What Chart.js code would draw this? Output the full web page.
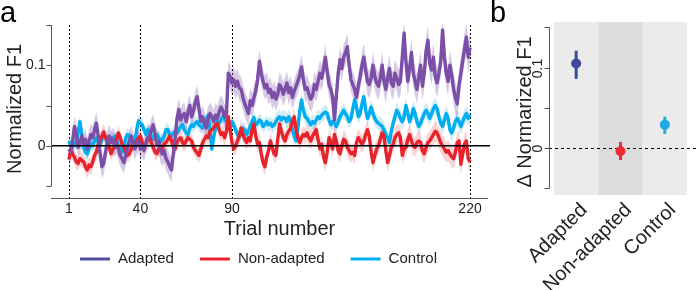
<!DOCTYPE html>
<html><head><meta charset="utf-8">
<script src="https://cdn.jsdelivr.net/npm/chart.js@4.4.1/dist/chart.umd.min.js"></script>
<style>
html,body{margin:0;padding:0;background:#fff;}
#wrap{position:relative;width:697px;height:290px;overflow:hidden;}
canvas{position:absolute;left:0;top:0;}
</style></head><body>
<div id="wrap"><canvas id="ca" width="697" height="290"></canvas><canvas id="cb" width="697" height="290"></canvas></div>
<script>
// ---------- DATA ----------
const seriesNames = ['Adapted', 'Non-adapted', 'Control'];
const markerTrials = [1, 40, 90, 220];
const yTicksA = [-0.05, 0, 0.05, 0.1, 0.15];
const yLabelsA = {'0': '0', '0.1': '0.1'};

const adapted = [
 -0.004,-0.008,0.006,0.024,0.014,-0.002,0.004,0.012,0.002,0.008,
 -0.004,0.006,0.014,0.010,0.020,0.028,0.012,-0.010,-0.026,-0.022,
 -0.008,0.006,0.012,0.004,0.009,0.000,0.004,-0.004,-0.012,-0.016,
 -0.021,-0.012,-0.002,0.006,0.012,0.004,-0.004,0.002,0.006,-0.004,
 0.000,-0.006,0.004,0.010,0.012,0.020,0.026,0.014,0.002,0.006,
 -0.006,-0.010,-0.006,-0.016,-0.020,-0.026,-0.030,-0.010,0.010,0.034,
 0.045,0.032,0.038,0.040,0.030,0.042,0.050,0.036,0.044,0.054,
 0.061,0.046,0.030,0.036,0.028,0.022,0.034,0.040,0.036,0.030,
 0.038,0.034,0.042,0.048,0.044,0.036,0.040,0.090,0.086,0.078,
 0.082,0.074,0.080,0.072,0.070,0.060,0.052,0.046,0.040,0.056,
 0.050,0.060,0.068,0.082,0.105,0.090,0.080,0.072,0.076,0.066,
 0.070,0.060,0.066,0.058,0.064,0.076,0.072,0.064,0.070,0.078,
 0.066,0.072,0.060,0.068,0.074,0.080,0.088,0.098,0.082,0.070,
 0.072,0.064,0.058,0.062,0.076,0.070,0.080,0.090,0.084,0.096,
 0.110,0.092,0.076,0.070,0.060,0.032,0.062,0.090,0.107,0.096,
 0.110,0.116,0.123,0.100,0.082,0.076,0.070,0.060,0.074,0.086,
 0.100,0.110,0.094,0.080,0.076,0.084,0.100,0.086,0.078,0.074,
 0.084,0.100,0.080,0.070,0.084,0.096,0.078,0.074,0.090,0.084,
 0.076,0.080,0.110,0.140,0.104,0.080,0.096,0.116,0.090,0.080,
 0.070,0.086,0.100,0.074,0.090,0.118,0.131,0.102,0.094,0.110,
 0.086,0.078,0.090,0.104,0.144,0.110,0.090,0.080,0.100,0.088,
 0.070,0.060,0.052,0.076,0.090,0.106,0.120,0.135,0.110,0.122
];
const nonAdapted = [
 -0.017,-0.004,-0.010,-0.014,-0.020,-0.022,-0.016,-0.018,-0.020,-0.026,
 -0.030,-0.024,-0.026,-0.020,-0.012,-0.008,0.002,0.006,0.012,0.017,
 0.010,0.006,-0.002,-0.010,-0.004,-0.002,0.008,0.016,0.010,0.002,
 -0.002,-0.008,-0.012,-0.010,-0.004,0.004,0.002,0.006,0.010,0.012,
 0.004,-0.002,0.002,0.008,0.012,0.004,-0.002,-0.008,-0.010,-0.004,
 -0.006,-0.002,0.002,0.004,0.008,0.012,0.006,-0.002,-0.004,0.004,
 0.008,0.010,0.004,0.002,0.006,0.010,0.008,0.006,-0.002,-0.006,
 -0.009,-0.012,-0.004,0.004,0.008,0.012,0.010,0.018,0.020,0.022,
 0.026,0.028,0.020,0.014,0.016,0.010,0.018,0.036,0.020,0.004,
 -0.004,0.000,0.006,0.012,0.022,0.014,0.008,0.004,0.010,0.006,
 0.020,0.027,0.012,0.002,0.004,-0.010,-0.021,-0.026,-0.014,-0.006,
 0.006,-0.002,-0.010,-0.012,0.008,0.027,0.018,0.010,0.006,0.014,
 0.018,0.022,0.030,0.036,0.020,0.010,0.004,0.010,0.014,0.012,
 0.016,0.010,0.006,0.012,0.016,0.020,0.008,-0.004,0.002,-0.014,
 -0.021,-0.008,0.010,0.004,-0.004,0.014,0.006,-0.006,-0.010,0.000,
 0.008,0.006,-0.002,-0.006,-0.010,-0.008,-0.012,0.004,0.010,0.006,
 0.002,0.006,0.014,0.020,0.012,-0.008,-0.021,-0.012,-0.004,0.000,
 0.008,0.016,0.012,-0.006,-0.021,-0.012,-0.002,0.002,0.010,0.014,
 0.016,0.010,-0.012,-0.004,-0.002,0.008,0.014,0.006,0.000,-0.002,
 0.004,0.006,0.004,-0.006,-0.010,-0.002,0.004,0.006,0.010,0.014,
 0.018,0.016,0.010,0.004,0.000,-0.004,-0.008,-0.006,-0.010,-0.014,
 -0.016,-0.008,0.004,0.006,-0.023,-0.010,0.002,0.006,-0.016,-0.020
];
const control = [
 0.006,0.000,-0.002,0.004,0.000,0.018,0.030,0.014,-0.002,-0.008,
 -0.010,-0.004,0.002,0.000,0.006,0.010,0.004,0.000,0.008,0.014,
 0.010,0.004,0.006,0.010,0.008,0.012,0.006,0.000,-0.002,-0.008,
 -0.002,0.010,0.014,0.012,0.008,0.004,0.006,0.020,0.031,0.028,
 0.026,0.020,0.014,0.020,0.018,0.012,0.008,0.012,0.014,0.010,
 0.006,0.008,0.012,0.020,0.020,0.014,0.012,0.016,0.018,0.016,
 0.020,0.024,0.026,0.020,0.016,0.014,0.022,0.026,0.024,0.028,
 0.030,0.026,0.024,0.022,0.028,0.032,0.038,0.020,-0.004,0.010,
 0.022,0.030,0.028,0.032,0.036,0.034,0.030,0.026,0.022,0.030,
 0.026,0.020,0.014,0.010,0.016,0.022,0.020,0.014,0.018,0.024,
 0.030,0.035,0.026,0.028,0.032,0.030,0.024,0.026,0.030,0.026,
 0.028,0.024,0.026,0.030,0.034,0.036,0.032,0.035,0.034,0.030,
 0.036,0.032,0.020,0.012,0.006,0.022,0.043,0.057,0.044,0.036,
 0.034,0.030,0.026,0.030,0.028,0.032,0.036,0.034,0.038,0.040,
 0.042,0.040,0.032,0.026,0.030,0.028,0.024,0.030,0.036,0.040,
 0.044,0.040,0.036,0.030,0.034,0.046,0.057,0.048,0.036,0.040,
 0.052,0.061,0.044,0.034,0.040,0.048,0.040,0.034,0.030,0.028,
 0.026,0.024,0.020,0.014,0.010,0.004,0.018,0.028,0.036,0.044,
 0.040,0.034,0.030,0.036,0.050,0.040,0.030,0.036,0.046,0.040,
 0.030,0.024,0.028,0.034,0.040,0.044,0.040,0.034,0.040,0.046,
 0.050,0.046,0.036,0.028,0.024,0.032,0.040,0.034,0.020,0.016,
 0.022,0.030,0.034,0.030,0.024,0.030,0.036,0.040,0.034,0.038
];
// standard error per block of 10 trials
const adaptedErr    = [0.013,0.014,0.014,0.013,0.014,0.015,0.014,0.014,0.015,0.016,0.015,0.015,0.015,0.016,0.016,0.016,0.017,0.017,0.018,0.018,0.018,0.019];
const nonAdaptedErr = [0.009,0.010,0.009,0.009,0.009,0.009,0.009,0.009,0.010,0.010,0.011,0.010,0.010,0.011,0.011,0.011,0.011,0.012,0.012,0.012,0.013,0.013];
const controlErr    = [0.008,0.008,0.008,0.008,0.008,0.008,0.008,0.008,0.008,0.008,0.008,0.009,0.009,0.009,0.009,0.009,0.009,0.010,0.010,0.010,0.010,0.010];

// panel b
const deltaCategories = ['Adapted', 'Non-adapted', 'Control'];
const deltaMean  = [0.105, -0.004, 0.029];
const deltaLow   = [0.086, -0.015, 0.0175];
const deltaHigh  = [0.121, 0.0075, 0.039];
const yTicksB = [-0.05, 0, 0.05, 0.1, 0.15];

// ---------- STYLE ----------
const FONT = '"Liberation Sans", Arial, Helvetica, sans-serif';
const lineColors = ['#7b4ea8', '#e8222b', '#00aeef'];
const legendColors = ['#4f4f9f', '#e8222b', '#00aeef'];
const bandColors = ['rgba(123,78,168,0.30)', 'rgba(232,34,43,0.20)', 'rgba(0,150,200,0.18)'];
const dotColors = ['#3d4a9c', '#ee2a35', '#1ea9e4'];
const axisColor = '#555';

const trials = adapted.map((_, i) => i + 1);
const allSeries = [adapted, nonAdapted, control];
const allErr = [adaptedErr, nonAdaptedErr, controlErr];

const datasetsA = [];
allSeries.forEach((vals, s) => {
  datasetsA.push({
    label: seriesNames[s],
    data: vals.map((v, i) => ({x: trials[i], y: v})),
    borderColor: lineColors[s], borderWidth: 3.4, pointRadius: 0,
    fill: false, tension: 0, order: s + 1, borderJoinStyle: 'round'
  });
});
allSeries.forEach((vals, s) => {
  const err = allErr[s];
  datasetsA.push({
    label: seriesNames[s] + ' upper',
    data: vals.map((v, i) => ({x: trials[i], y: v + err[Math.floor(i / 10)]})),
    borderWidth: 0, pointRadius: 0, backgroundColor: bandColors[s],
    fill: '+1', order: 10 + s * 2
  });
  datasetsA.push({
    label: seriesNames[s] + ' lower',
    data: vals.map((v, i) => ({x: trials[i], y: v - err[Math.floor(i / 10)]})),
    borderWidth: 0, pointRadius: 0, fill: false, order: 11 + s * 2
  });
});

const panelAPlugin = {
  id: 'panelA',
  beforeDatasetsDraw(chart) {
    const {ctx, chartArea, scales} = chart;
    ctx.save();
    ctx.strokeStyle = '#000';
    ctx.lineWidth = 1;
    ctx.setLineDash([2, 2]);
    markerTrials.forEach(t => {
      const x = Math.round(scales.x.getPixelForValue(t)) + 0.5;
      ctx.beginPath(); ctx.moveTo(x, chartArea.top); ctx.lineTo(x, chartArea.bottom); ctx.stroke();
    });
    ctx.restore();
  },
  afterDatasetsDraw(chart) {
    const {ctx, chartArea, scales} = chart;
    const ys = scales.y, xs = scales.x;
    ctx.save();
    // zero line
    ctx.strokeStyle = '#000'; ctx.lineWidth = 1.6;
    ctx.beginPath(); ctx.moveTo(chartArea.left, ys.getPixelForValue(0)); ctx.lineTo(chartArea.right + 2, ys.getPixelForValue(0)); ctx.stroke();
    // y axis
    ctx.strokeStyle = axisColor; ctx.lineWidth = 1;
    const ax = chartArea.left + 0.5;
    ctx.beginPath(); ctx.moveTo(ax, ys.getPixelForValue(yTicksA[0])); ctx.lineTo(ax, ys.getPixelForValue(yTicksA[yTicksA.length - 1])); ctx.stroke();
    ctx.fillStyle = '#222'; ctx.font = '14px ' + FONT; ctx.textAlign = 'right'; ctx.textBaseline = 'middle';
    yTicksA.forEach(v => {
      const y = Math.round(ys.getPixelForValue(v)) + 0.5;
      ctx.beginPath(); ctx.moveTo(ax - 5, y); ctx.lineTo(ax, y); ctx.stroke();
      const key = String(v);
      if (yLabelsA[key] !== undefined) ctx.fillText(yLabelsA[key], ax - 6, y);
    });
    // x axis
    const by = chartArea.bottom + 0.5;
    ctx.beginPath(); ctx.moveTo(chartArea.left, by); ctx.lineTo(chartArea.right, by); ctx.stroke();
    ctx.textAlign = 'center';
    markerTrials.forEach(t => ctx.fillText(String(t), xs.getPixelForValue(t), by + 11));
    // titles
    ctx.font = '20px ' + FONT; ctx.fillStyle = '#222';
    ctx.fillText('Trial number', (chartArea.left + chartArea.right) / 2 + 10, by + 31);
    ctx.save(); ctx.translate(15, 109); ctx.rotate(-Math.PI / 2); ctx.fillText('Normalized F1', 0, 0); ctx.restore();
    // legend
    ctx.font = '15px ' + FONT; ctx.textAlign = 'left';
    let lx = 80; const ly = 259;
    seriesNames.forEach((name, s) => {
      ctx.strokeStyle = legendColors[s]; ctx.lineWidth = 3;
      ctx.beginPath(); ctx.moveTo(lx, ly); ctx.lineTo(lx + 30, ly); ctx.stroke();
      ctx.fillStyle = '#222';
      ctx.fillText(name, lx + 38, ly);
      lx += 38 + ctx.measureText(name).width + 26;
    });
    // panel label
    ctx.font = '29px ' + FONT; ctx.textBaseline = 'alphabetic'; ctx.fillStyle = '#000';
    ctx.fillText('a', 0, 22);
    ctx.restore();
  }
};

new Chart(document.getElementById('ca'), {
  type: 'line',
  data: {datasets: datasetsA},
  options: {
    responsive: false, animation: false, devicePixelRatio: 1,
    layout: {padding: {left: 51, right: 697 - 488, top: 25, bottom: 290 - 198}},
    plugins: {legend: {display: false}, tooltip: {enabled: false}},
    scales: {
      x: {type: 'linear', min: -8.8, max: 229.8, display: false},
      y: {type: 'linear', min: -0.0649, max: 0.15, display: false}
    }
  },
  plugins: [panelAPlugin]
});

// ---------- PANEL B ----------
const panelBPlugin = {
  id: 'panelB',
  beforeDatasetsDraw(chart) {
    const {ctx, chartArea, scales} = chart;
    const xs = scales.x, ys = scales.y;
    ctx.save();
    deltaCategories.forEach((c, i) => {
      const x0 = xs.getPixelForValue(i - 0.5), x1 = xs.getPixelForValue(i + 0.5);
      ctx.fillStyle = i === 1 ? '#dcdcdc' : '#ebebeb';
      ctx.fillRect(x0, chartArea.top, x1 - x0, chartArea.bottom - chartArea.top);
    });
    // dashed zero
    const zy = Math.round(ys.getPixelForValue(0)) + 0.5;
    ctx.strokeStyle = '#000'; ctx.lineWidth = 1; ctx.setLineDash([3, 3]);
    ctx.beginPath(); ctx.moveTo(chartArea.left - 5, zy); ctx.lineTo(697, zy); ctx.stroke();
    ctx.setLineDash([]);
    // error bars
    deltaCategories.forEach((c, i) => {
      const x = xs.getPixelForValue(i);
      ctx.strokeStyle = dotColors[i]; ctx.lineWidth = 3;
      ctx.beginPath(); ctx.moveTo(x, ys.getPixelForValue(deltaLow[i])); ctx.lineTo(x, ys.getPixelForValue(deltaHigh[i])); ctx.stroke();
    });
    ctx.restore();
  },
  afterDatasetsDraw(chart) {
    const {ctx, chartArea, scales} = chart;
    const xs = scales.x, ys = scales.y;
    ctx.save();
    const ax = chartArea.left - 5 + 0.5;
    ctx.strokeStyle = axisColor; ctx.lineWidth = 1;
    ctx.beginPath(); ctx.moveTo(ax, ys.getPixelForValue(yTicksB[0])); ctx.lineTo(ax, ys.getPixelForValue(yTicksB[yTicksB.length - 1])); ctx.stroke();
    ctx.fillStyle = '#222'; ctx.font = '14px ' + FONT; ctx.textAlign = 'center'; ctx.textBaseline = 'middle';
    yTicksB.forEach(v => {
      const y = Math.round(ys.getPixelForValue(v)) + 0.5;
      ctx.beginPath(); ctx.moveTo(ax - 5, y); ctx.lineTo(ax, y); ctx.stroke();
      const key = String(v);
      if (yLabelsA[key] !== undefined) {
        ctx.save(); ctx.translate(ax - 11, y); ctx.rotate(-Math.PI / 2); ctx.fillText(yLabelsA[key], 0, 0); ctx.restore();
      }
    });
    // y title
    ctx.font = '20px ' + FONT;
    ctx.save(); ctx.translate(525, 112); ctx.rotate(-Math.PI / 2); ctx.fillText('\u0394 Normarized F1', 0, 0); ctx.restore();
    // category labels
    ctx.textAlign = 'right';
    deltaCategories.forEach((c, i) => {
      ctx.save(); ctx.translate(xs.getPixelForValue(i) + 8, chartArea.bottom + 12); ctx.rotate(-Math.PI / 4);
      ctx.fillText(c, 0, 0); ctx.restore();
    });
    // panel label
    ctx.font = '29px ' + FONT; ctx.textAlign = 'left'; ctx.textBaseline = 'alphabetic'; ctx.fillStyle = '#000';
    ctx.fillText('b', 490, 22);
    ctx.restore();
  }
};

new Chart(document.getElementById('cb'), {
  type: 'scatter',
  data: {datasets: [{
    label: 'Delta',
    data: deltaMean.map((v, i) => ({x: i, y: v})),
    pointRadius: 5, pointBackgroundColor: dotColors, pointBorderWidth: 0, clip: false
  }]},
  options: {
    responsive: false, animation: false, devicePixelRatio: 1,
    layout: {padding: {left: 554, right: 10, top: 22, bottom: 95}},
    plugins: {legend: {display: false}, tooltip: {enabled: false}},
    scales: {
      x: {type: 'linear', min: -0.5, max: 2.5, display: false},
      y: {type: 'linear', min: -0.0585, max: 0.1567, display: false}
    }
  },
  plugins: [panelBPlugin]
});
</script>
</body></html>
